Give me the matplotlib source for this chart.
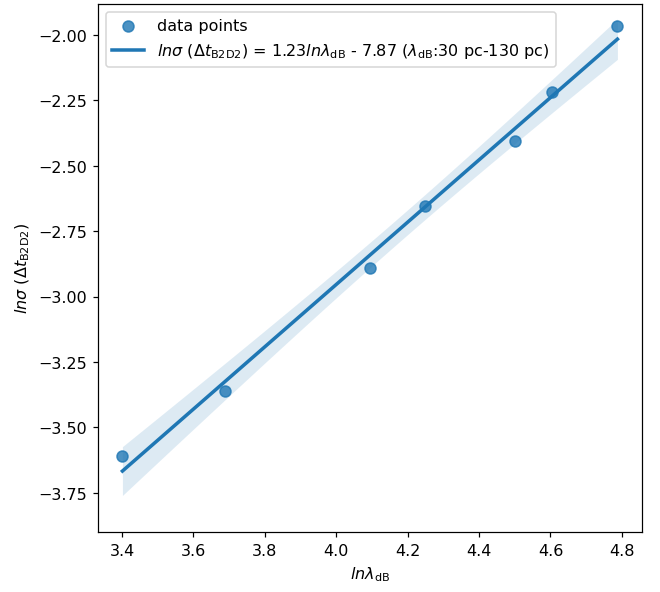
import numpy as np
import matplotlib
matplotlib.use('Agg')
import matplotlib.pyplot as plt

plt.rcParams['font.size'] = 10.5

# Data: ln(lambda_dB) for 30..120 pc and ln(sigma) of Delta t
lam_pc = [30, 40, 60, 70, 90, 100, 120]
ln_lam = np.log(lam_pc)
ln_sigma = [-3.609, -3.360, -2.890, -2.653, -2.405, -2.218, -1.966]

fit_label = (r"$ln\sigma$ ($\Delta t_{\rm B2D2}$) = 1.23$ln\lambda_{\rm dB}$"
             r" - 7.87 ($\lambda_{\rm dB}$:30 pc-130 pc)")

# Linear fit + 95% confidence band
x = np.asarray(ln_lam)
y = np.asarray(ln_sigma)
n = len(x)
slope, inter = np.polyfit(x, y, 1)
grid = np.linspace(x.min(), x.max(), 100)
yhat = slope * grid + inter
resid = y - (slope * x + inter)
s = np.sqrt(np.sum(resid ** 2) / (n - 2))
t = 2.571  # t(0.975, df=5)
se = s * np.sqrt(1 / n + (grid - x.mean()) ** 2 / np.sum((x - x.mean()) ** 2))

fig = plt.figure(figsize=(6, 5.39), dpi=110)
ax = fig.add_axes([0.148, 0.101, 0.825, 0.891])

ax.scatter(x, y, s=52, color='C0', alpha=0.8, label='data points')
ax.plot(grid, yhat, color='C0', lw=2.3, label=fit_label)
ax.fill_between(grid, yhat - t * se, yhat + t * se, color='C0', alpha=0.15, lw=0)

ax.set_ylim(-3.90, -1.882)
ax.set_xlabel(r"$ln\lambda_{\rm dB}$")
ax.set_ylabel(r"$ln\sigma$ ($\Delta t_{\rm B2D2}$)")
ax.legend(loc='upper left')

fig.savefig('out.png', dpi=110)
